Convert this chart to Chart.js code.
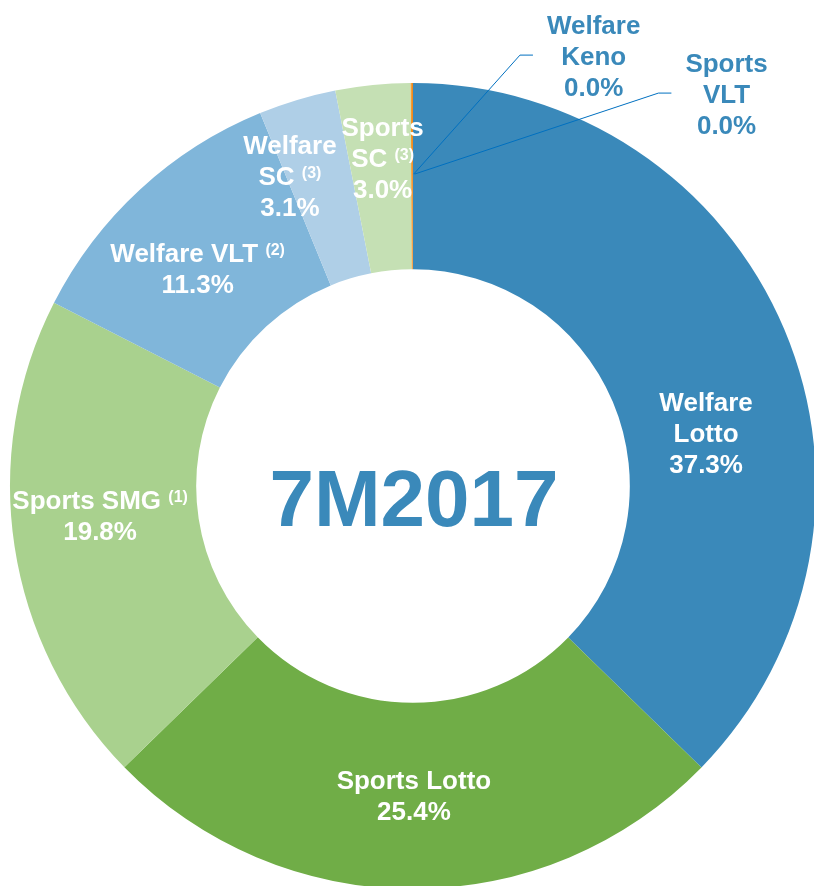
<!DOCTYPE html>
<html>
<head>
<meta charset="utf-8">
<script src="https://cdn.jsdelivr.net/npm/chart.js@4.4.1/dist/chart.umd.min.js"></script>
<style>
  html, body { margin: 0; padding: 0; background: #fff; overflow: hidden; }
  #wrap { width: 830px; height: 900px; }
</style>
</head>
<body>
<div id="wrap"><canvas id="ring" width="830" height="900"></canvas></div>
<script>
// data (share of sales, %)
var categories = ["Welfare Lotto", "Sports Lotto", "Sports SMG", "Welfare VLT", "Welfare SC", "Sports SC", "Welfare Keno", "Sports VLT"];
var shares = [37.3, 25.4, 19.8, 11.3, 3.1, 3.0, 0.045, 0.045];
var notes = ["", "", "(1)", "(2)", "(3)", "(3)", "", ""];
var centerTitle = "7M2017";

var colors = ["#3A89BA", "#70AD47", "#A9D18E", "#80B6DA", "#AFCFE7", "#C5E0B4", "#F39424", "#F08A1C"];

// label layout: split name on two lines, offset from arc middle, leader line
var splitName = [true, false, false, false, true, true, true, true];
var labelShift = [[7.5, 67], [1, 0], [-6.5, -17], [-5.5, 11], [-34, -13], [0.5, -20], [182, -120], [314, -82]];
var hasLeader = [false, false, false, false, false, false, true, true];

var FONT = "'Liberation Sans', Arial, sans-serif";
var blue = "#3A89BA";

function labelLines(i) {
  var name = categories[i];
  var lines = [];
  if (splitName[i]) {
    var k = name.indexOf(" ");
    lines.push([{ t: name.slice(0, k) }]);
    lines.push([{ t: name.slice(k + 1) }]);
  } else {
    lines.push([{ t: name }]);
  }
  if (notes[i]) {
    var last = lines[lines.length - 1];
    last[0].t += " ";
    last.push({ t: notes[i], sup: true });
  }
  lines.push([{ t: shares[i].toFixed(1) + "%" }]);
  return lines;
}

var ringLabels = {
  id: "ringLabels",
  afterDatasetsDraw: function (chart) {
    var ctx = chart.ctx;
    var meta = chart.getDatasetMeta(0);
    ctx.save();
    meta.data.forEach(function (arc, i) {
      var p = arc.getProps(["x", "y", "startAngle", "endAngle", "innerRadius", "outerRadius"], true);
      var a = (p.startAngle + p.endAngle) / 2;
      var r = (p.innerRadius + p.outerRadius) / 2;
      var mx = p.x + Math.cos(a) * r;
      var my = p.y + Math.sin(a) * r;
      var cx = mx + labelShift[i][0];
      var cy = my + labelShift[i][1];
      var lines = labelLines(i);
      var step = 31;
      var widest = 0;
      var widths = lines.map(function (segs) {
        var w = 0;
        segs.forEach(function (s) {
          ctx.font = "bold " + (s.sup ? 16 : 26) + "px " + FONT;
          w += ctx.measureText(s.t).width;
        });
        widest = Math.max(widest, w);
        return w;
      });
      ctx.fillStyle = hasLeader[i] ? blue : "#fff";
      ctx.textBaseline = "alphabetic";
      ctx.textAlign = "left";
      lines.forEach(function (segs, j) {
        var base = cy + (j - (lines.length - 1) / 2) * step + 9;
        var x = cx - widths[j] / 2;
        segs.forEach(function (s) {
          ctx.font = "bold " + (s.sup ? 16 : 26) + "px " + FONT;
          ctx.fillText(s.t, x, s.sup ? base - 7 : base);
          x += ctx.measureText(s.t).width;
        });
      });
      if (hasLeader[i]) {
        var left = cx - widest / 2;
        var ly = cy - 1;
        ctx.strokeStyle = "#0070C0";
        ctx.lineWidth = 1;
        ctx.beginPath();
        ctx.moveTo(mx + 2, my - 2);
        ctx.lineTo(left - 27, ly);
        ctx.lineTo(left - 14, ly);
        ctx.stroke();
      }
    });
    // title in the hole
    ctx.font = "bold 80px " + FONT;
    ctx.fillStyle = blue;
    ctx.textAlign = "center";
    ctx.fillText(centerTitle, meta.data[0].x + 1, meta.data[0].y + 40);
    ctx.restore();
  }
};

new Chart(document.getElementById("ring").getContext("2d"), {
  type: "doughnut",
  data: {
    labels: categories,
    datasets: [
      {
        data: shares,
        backgroundColor: colors,
        borderWidth: 0,
      },
    ],
  },
  options: {
    responsive: false,
    animation: false,
    cutout: "53.8%",
    layout: {
      padding: { left: 10, top: 83, right: 14, bottom: 11 },
    },
    plugins: {
      legend: { display: false },
      tooltip: { enabled: false },
    },
  },
  plugins: [ringLabels],
});
</script>
</body>
</html>
